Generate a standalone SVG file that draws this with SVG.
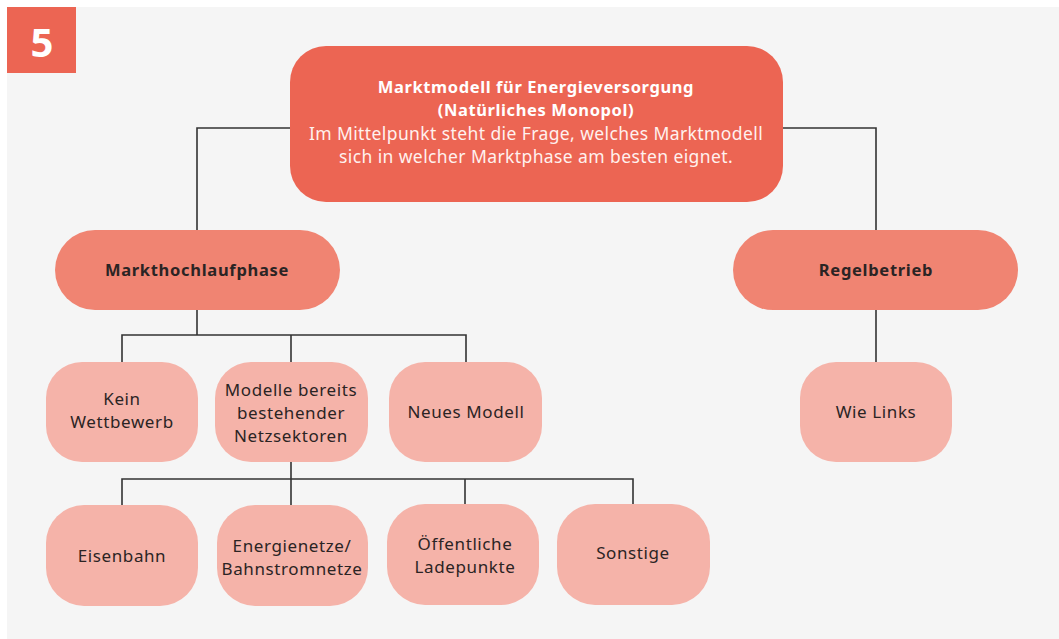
<svg xmlns="http://www.w3.org/2000/svg" width="1059" height="639" viewBox="0 0 1059 639">
  <style>
    .bg { fill: #f5f5f5; }
    .badge { fill: #ec6553; }
    .root { fill: #ec6553; }
    .phase { fill: #f08472; }
    .leaf { fill: #f5b3a9; }
    .link { fill: none; stroke: #333333; stroke-width: 1.6; }
    text { font-family: "Noto Sans", "Open Sans", "Liberation Sans", sans-serif; text-anchor: middle; }
    .t-root-b { font-size: 16.5px; font-weight: bold; fill: #ffffff; letter-spacing: 0.6px; }
    .t-root { font-size: 17.5px; fill: #fff1ee; letter-spacing: 0.4px; }
    .t-phase { font-size: 16.5px; font-weight: bold; fill: #2b2424; letter-spacing: 0.7px; }
    .t-leaf { font-size: 17px; fill: #2b2424; letter-spacing: 0.6px; }
  </style>

  <rect class="bg" x="7" y="7" width="1052" height="632"/>

  <!-- section number -->
  <g id="badge">
    <rect class="badge" x="7" y="7" width="69" height="66"/>
    <text x="42" y="57" style="font-size:40px;font-weight:bold;fill:#ffffff">5</text>
  </g>

  <!-- connectors -->
  <g id="connectors">
    <polyline class="link" points="290,128 197,128 197,230"/>
    <polyline class="link" points="783,128 876,128 876,230"/>
    <line class="link" x1="197" y1="310" x2="197" y2="335"/>
    <polyline class="link" points="122,362 122,335 466,335 466,362"/>
    <line class="link" x1="291" y1="335" x2="291" y2="362"/>
    <line class="link" x1="876" y1="310" x2="876" y2="362"/>
    <line class="link" x1="291" y1="462" x2="291" y2="505"/>
    <polyline class="link" points="122,505 122,479 633,479 633,505"/>
    <line class="link" x1="465" y1="479" x2="465" y2="505"/>
  </g>

  <g id="root">
    <rect class="root" x="290" y="46" width="493" height="156" rx="36"/>
    <text class="t-root-b" x="536" y="93">Marktmodell für Energieversorgung</text>
    <text class="t-root-b" x="536" y="116">(Natürliches Monopol)</text>
    <text class="t-root" x="536" y="140">Im Mittelpunkt steht die Frage, welches Marktmodell</text>
    <text class="t-root" x="536" y="163">sich in welcher Marktphase am besten eignet.</text>
  </g>

  <g id="markthochlaufphase">
    <rect class="phase" x="55" y="230" width="285" height="80" rx="40"/>
    <text class="t-phase" x="197" y="276">Markthochlaufphase</text>
  </g>

  <g id="regelbetrieb">
    <rect class="phase" x="733" y="230" width="285" height="80" rx="40"/>
    <text class="t-phase" x="876" y="276">Regelbetrieb</text>
  </g>

  <g id="kein-wettbewerb">
    <rect class="leaf" x="46" y="362" width="152" height="100" rx="36"/>
    <text class="t-leaf" x="122" y="405">Kein</text>
    <text class="t-leaf" x="122" y="428">Wettbewerb</text>
  </g>

  <g id="modelle-bestehend">
    <rect class="leaf" x="215" y="362" width="153" height="100" rx="36"/>
    <text class="t-leaf" x="291" y="396">Modelle bereits</text>
    <text class="t-leaf" x="291" y="419">bestehender</text>
    <text class="t-leaf" x="291" y="442">Netzsektoren</text>
  </g>

  <g id="neues-modell">
    <rect class="leaf" x="389" y="362" width="153" height="100" rx="36"/>
    <text class="t-leaf" x="466" y="418">Neues Modell</text>
  </g>

  <g id="wie-links">
    <rect class="leaf" x="800" y="362" width="152" height="100" rx="36"/>
    <text class="t-leaf" x="876" y="418">Wie Links</text>
  </g>

  <g id="eisenbahn">
    <rect class="leaf" x="46" y="505" width="152" height="101" rx="38"/>
    <text class="t-leaf" x="122" y="562">Eisenbahn</text>
  </g>

  <g id="energienetze">
    <rect class="leaf" x="217" y="505" width="151" height="101" rx="38"/>
    <text class="t-leaf" x="292" y="552">Energienetze/</text>
    <text class="t-leaf" x="292" y="575">Bahnstromnetze</text>
  </g>

  <g id="ladepunkte">
    <rect class="leaf" x="387" y="504" width="152" height="101" rx="38"/>
    <text class="t-leaf" x="465" y="550">Öffentliche</text>
    <text class="t-leaf" x="465" y="573">Ladepunkte</text>
  </g>

  <g id="sonstige">
    <rect class="leaf" x="557" y="504" width="153" height="101" rx="38"/>
    <text class="t-leaf" x="633" y="559">Sonstige</text>
  </g>
</svg>
